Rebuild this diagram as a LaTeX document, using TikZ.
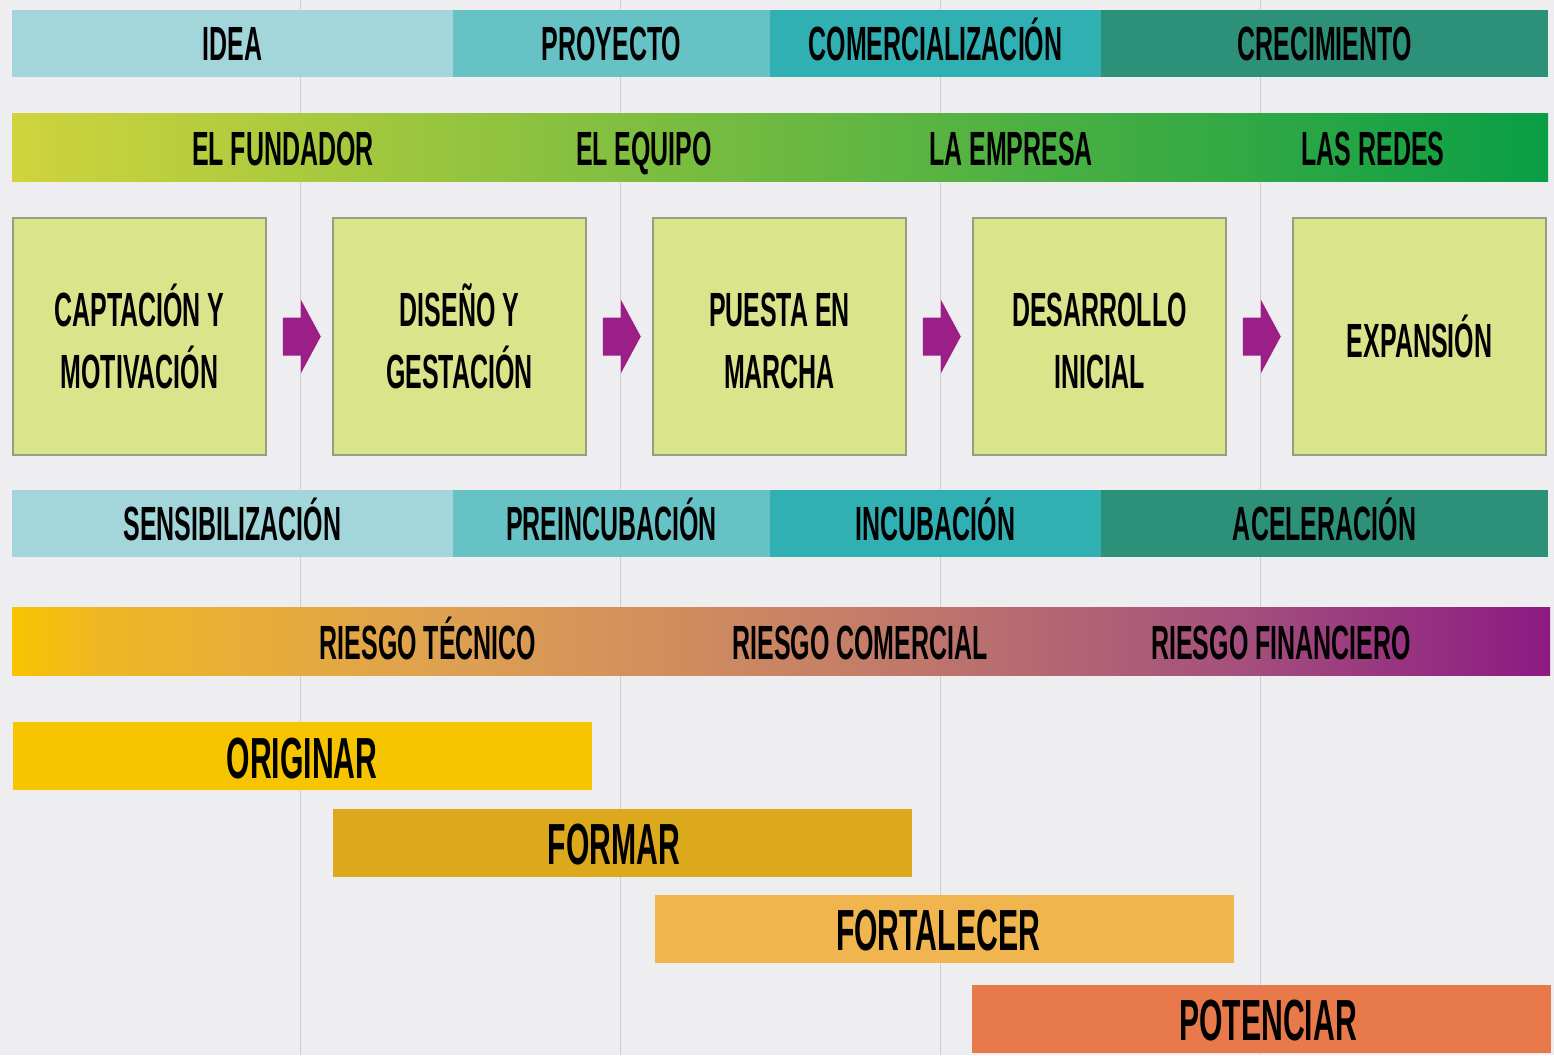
\documentclass[tikz,border=0pt]{standalone}
\usepackage{fontspec}
\newfontfamily\labfont[FakeStretch=0.52]{Liberation Sans}
\usetikzlibrary{calc}
\definecolor{bg}{HTML}{EEEDF0}
\definecolor{vl}{HTML}{CDCDD2}
\definecolor{ca}{HTML}{A3D6DA}
\definecolor{cb}{HTML}{66C2C4}
\definecolor{cc}{HTML}{30B0B3}
\definecolor{cd}{HTML}{2D917A}
\definecolor{ga}{HTML}{CFD43C}
\definecolor{gb}{HTML}{5BB847}
\definecolor{gc}{HTML}{0A9E46}
\definecolor{boxfill}{HTML}{DAE48B}
\definecolor{boxline}{HTML}{9A9C84}
\definecolor{purp}{HTML}{9B1F87}
\definecolor{ra}{HTML}{F8C400}
\definecolor{rb}{HTML}{EFB626}
\definecolor{rc}{HTML}{DDA052}
\definecolor{rd}{HTML}{C47E68}
\definecolor{re}{HTML}{A44F7D}
\definecolor{rf}{HTML}{8C1A82}
\definecolor{oa}{HTML}{F7C500}
\definecolor{ob}{HTML}{DCA91C}
\definecolor{oc}{HTML}{F0B54F}
\definecolor{od}{HTML}{E8794A}
\pgfdeclarehorizontalshading{riesgo}{100bp}{color(0bp)=(ra); color(25bp)=(ra); color(28bp)=(rb); color(39.5bp)=(rc); color(52.5bp)=(rd); color(65bp)=(re); color(75bp)=(rf); color(100bp)=(rf)}
\begin{document}
\begin{tikzpicture}[x=1pt,y=-1pt,
  lab/.style={inner sep=0pt, font=\labfont\bfseries\fontsize{48}{62}\selectfont, text height=34pt, text depth=0pt},
  seg/.style={lab, minimum height=67pt},
  stagebox/.style={draw=boxline, line width=1.5pt, fill=boxfill, minimum width=253pt, minimum height=237pt, inner sep=0pt, align=center, font=\labfont\bfseries\fontsize{48}{62}\selectfont},
  bigbar/.style={inner sep=0pt, minimum width=579pt, minimum height=68pt},
  biglab/.style={inner sep=0pt, font=\labfont\bfseries\fontsize{58}{62}\selectfont, text height=42pt, text depth=0pt},
  vline/.style={draw=vl, line width=1pt},
  parrow/.style={fill=purp}
]
\fill[bg] (0,0) rectangle (1554,1055);
\useasboundingbox (0,0) rectangle (1554,1055);
\foreach \x in {300,620,940,1260} \draw[vline] (\x,0) -- (\x,1055);

% row 1
\node[seg, fill=ca, minimum width=441pt] (idea) at (232.5,43.5) {IDEA};
\node[seg, fill=cb, minimum width=317pt] (proy) at (611.5,43.5) {PROYECTO};
\node[seg, fill=cc, minimum width=331pt] (comer) at (935.5,43.5) {COMERCIALIZACIÓN};
\node[seg, fill=cd, minimum width=447pt] (crec) at (1324.5,43.5) {CRECIMIENTO};

% row 2
\node[inner sep=0pt, minimum width=1536pt, minimum height=68pt, left color=ga, middle color=gb, right color=gc] (actores) at (780,147) {};
\node[lab] (fund) at (283,148) {EL FUNDADOR};
\node[lab] (equipo) at (644,148) {EL EQUIPO};
\node[lab] (empresa) at (1011,148) {LA EMPRESA};
\node[lab] (redes) at (1373,148) {LAS REDES};

% stage boxes
\node[stagebox] (b1) at (139.5,336.5) {CAPTACIÓN Y\\MOTIVACIÓN};
\node[stagebox] (b2) at (459.5,336.5) {DISEÑO Y\\GESTACIÓN};
\node[stagebox] (b3) at (779.5,336.5) {\vphantom{Ó}PUESTA EN\\MARCHA};
\node[stagebox] (b4) at (1099.5,336.5) {\vphantom{Ó}DESARROLLO\\INICIAL};
\node[stagebox] (b5) at (1419.5,336.5) {EXPANSIÓN};
\foreach \a in {b1,b2,b3,b4}
  \fill[parrow] ($(\a.east)+(16,-19)$) -- ($(\a.east)+(34,-19)$) -- ($(\a.east)+(34,-37)$)
    -- ($(\a.east)+(54,0)$) -- ($(\a.east)+(34,37)$) -- ($(\a.east)+(34,19)$) -- ($(\a.east)+(16,19)$) -- cycle;

% row 3
\node[seg, fill=ca, minimum width=441pt] (sens) at (232.5,523.5) {SENSIBILIZACIÓN};
\node[seg, fill=cb, minimum width=317pt] (preinc) at (611.5,523.5) {PREINCUBACIÓN};
\node[seg, fill=cc, minimum width=331pt] (incub) at (935.5,523.5) {INCUBACIÓN};
\node[seg, fill=cd, minimum width=447pt] (acel) at (1324.5,523.5) {ACELERACIÓN};

% row 4
\node[inner sep=0pt, minimum width=1538pt, minimum height=68pt, shading=riesgo] (riesgo) at (781,641) {};
\node[lab] (rtec) at (428,642) {RIESGO TÉCNICO};
\node[lab] (rcom) at (860,642) {RIESGO COMERCIAL};
\node[lab] (rfin) at (1281,642) {RIESGO FINANCIERO};

% bottom bars
\node[bigbar, fill=oa] (orig) at (302,756) {};
\node[biglab] (origt) at (302,757) {ORIGINAR};
\node[bigbar, fill=ob] (formar) at (622.5,842.5) {};
\node[biglab] (formart) at (614,843) {FORMAR};
\node[bigbar, fill=oc] (fort) at (944.5,928.5) {};
\node[biglab] (fortt) at (938,929) {FORTALECER};
\node[bigbar, fill=od] (pot) at (1261,1018.5) {};
\node[biglab] (pott) at (1268,1019) {POTENCIAR};
\end{tikzpicture}
\end{document}
